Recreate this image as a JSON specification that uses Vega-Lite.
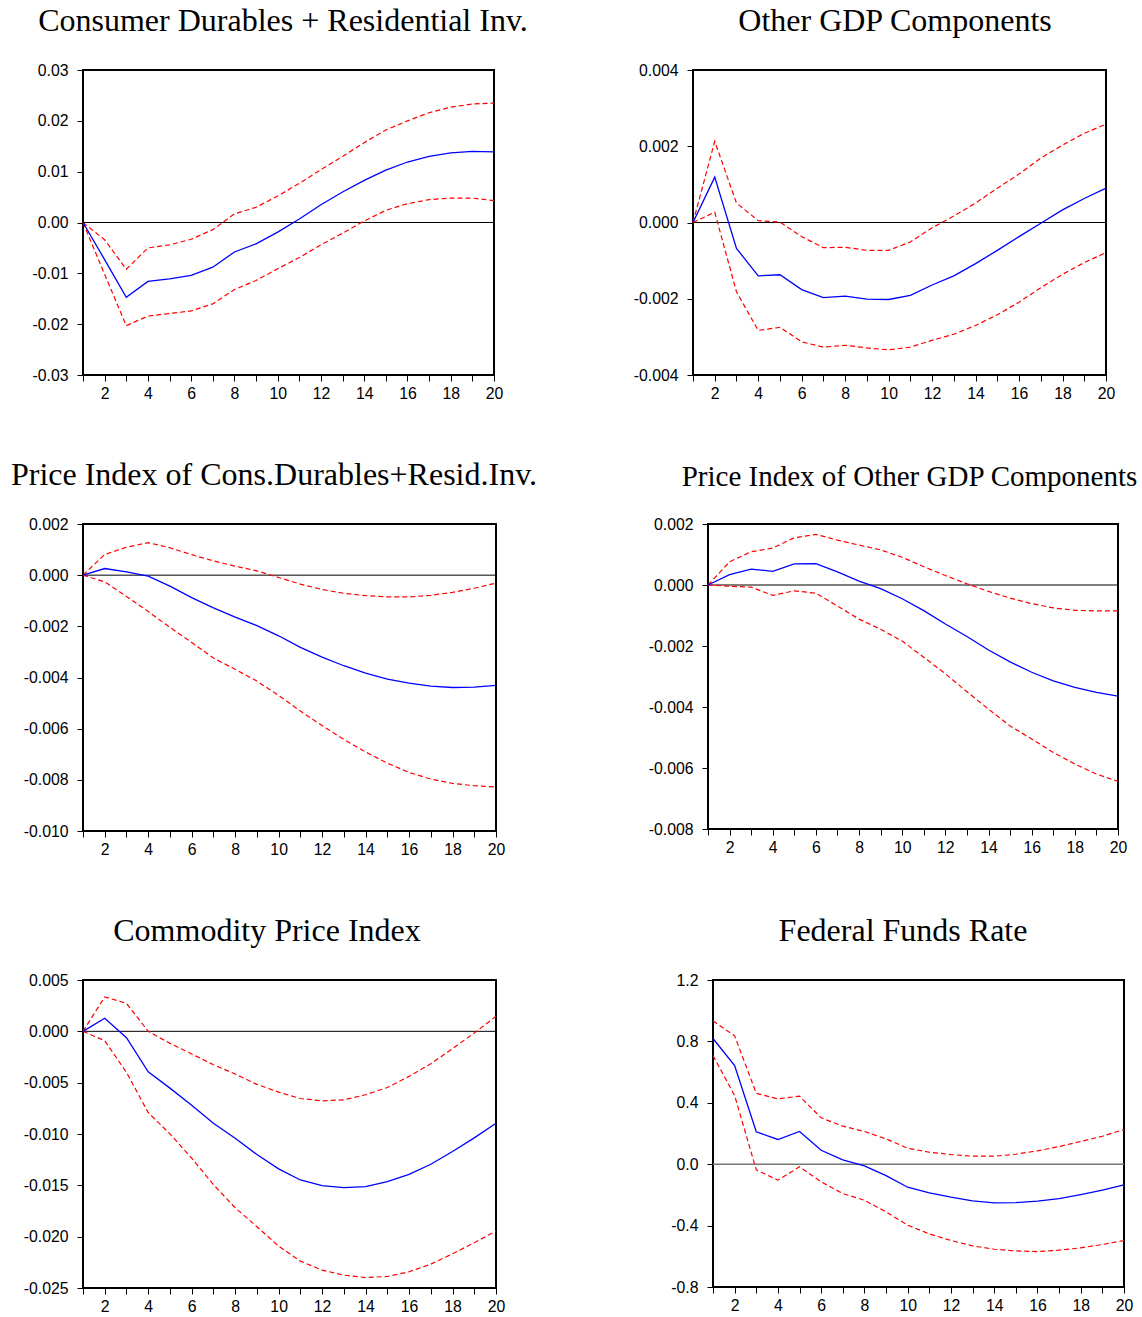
{
  "$schema": "https://vega.github.io/schema/vega-lite/v6.json",
  "padding": {"left": 9, "top": 4, "right": 0, "bottom": 0},
  "background": "white",
  "datasets": {
    "p1": [
      {"h": 1, "irf": 0, "lo": 0, "hi": 0},
      {"h": 2, "irf": -0.0073, "lo": -0.0102, "hi": -0.0034},
      {"h": 3, "irf": -0.0147, "lo": -0.0203, "hi": -0.0092},
      {"h": 4, "irf": -0.0116, "lo": -0.0184, "hi": -0.0050},
      {"h": 5, "irf": -0.0111, "lo": -0.0179, "hi": -0.0044},
      {"h": 6, "irf": -0.0104, "lo": -0.0174, "hi": -0.0033},
      {"h": 7, "irf": -0.0088, "lo": -0.0160, "hi": -0.0014},
      {"h": 8, "irf": -0.0058, "lo": -0.0132, "hi": 0.0017},
      {"h": 9, "irf": -0.0042, "lo": -0.0114, "hi": 0.0030},
      {"h": 10, "irf": -0.0019, "lo": -0.0091, "hi": 0.0052},
      {"h": 11, "irf": 0.0007, "lo": -0.0069, "hi": 0.0077},
      {"h": 12, "irf": 0.0035, "lo": -0.0044, "hi": 0.0104},
      {"h": 13, "irf": 0.0060, "lo": -0.0021, "hi": 0.0130},
      {"h": 14, "irf": 0.0083, "lo": 0.0003, "hi": 0.0157},
      {"h": 15, "irf": 0.0103, "lo": 0.0024, "hi": 0.0182},
      {"h": 16, "irf": 0.0119, "lo": 0.0037, "hi": 0.0200},
      {"h": 17, "irf": 0.0130, "lo": 0.0045, "hi": 0.0216},
      {"h": 18, "irf": 0.0137, "lo": 0.0048, "hi": 0.0227},
      {"h": 19, "irf": 0.0140, "lo": 0.0048, "hi": 0.0233},
      {"h": 20, "irf": 0.0139, "lo": 0.0043, "hi": 0.0235}
    ],
    "p2": [
      {"h": 1, "irf": 0, "lo": 0, "hi": 0},
      {"h": 2, "irf": 0.00119, "lo": 0.00027, "hi": 0.00213},
      {"h": 3, "irf": -0.00068, "lo": -0.00182, "hi": 0.00051},
      {"h": 4, "irf": -0.00140, "lo": -0.00283, "hi": 0.00005},
      {"h": 5, "irf": -0.00137, "lo": -0.00275, "hi": 0.00001},
      {"h": 6, "irf": -0.00176, "lo": -0.00313, "hi": -0.00037},
      {"h": 7, "irf": -0.00197, "lo": -0.00327, "hi": -0.00066},
      {"h": 8, "irf": -0.00193, "lo": -0.00322, "hi": -0.00065},
      {"h": 9, "irf": -0.00201, "lo": -0.00329, "hi": -0.00073},
      {"h": 10, "irf": -0.00202, "lo": -0.00334, "hi": -0.00073},
      {"h": 11, "irf": -0.00191, "lo": -0.00327, "hi": -0.00051},
      {"h": 12, "irf": -0.00164, "lo": -0.00309, "hi": -0.00014},
      {"h": 13, "irf": -0.00140, "lo": -0.00293, "hi": 0.00017},
      {"h": 14, "irf": -0.00108, "lo": -0.00270, "hi": 0.00051},
      {"h": 15, "irf": -0.00073, "lo": -0.00242, "hi": 0.00090},
      {"h": 16, "irf": -0.00037, "lo": -0.00209, "hi": 0.00127},
      {"h": 17, "irf": -0.00002, "lo": -0.00171, "hi": 0.00169},
      {"h": 18, "irf": 0.00033, "lo": -0.00136, "hi": 0.00203},
      {"h": 19, "irf": 0.00063, "lo": -0.00105, "hi": 0.00234},
      {"h": 20, "irf": 0.00090, "lo": -0.00079, "hi": 0.00258}
    ],
    "p3": [
      {"h": 1, "irf": 0, "lo": 0, "hi": 0},
      {"h": 2, "irf": 0.00026, "lo": -0.00026, "hi": 0.00081},
      {"h": 3, "irf": 0.00013, "lo": -0.00083, "hi": 0.00109},
      {"h": 4, "irf": -0.00004, "lo": -0.00142, "hi": 0.00127},
      {"h": 5, "irf": -0.00043, "lo": -0.00204, "hi": 0.00107},
      {"h": 6, "irf": -0.00088, "lo": -0.00263, "hi": 0.00080},
      {"h": 7, "irf": -0.00128, "lo": -0.00324, "hi": 0.00056},
      {"h": 8, "irf": -0.00164, "lo": -0.00368, "hi": 0.00035},
      {"h": 9, "irf": -0.00197, "lo": -0.00414, "hi": 0.00017},
      {"h": 10, "irf": -0.00237, "lo": -0.00470, "hi": -0.00009},
      {"h": 11, "irf": -0.00282, "lo": -0.00531, "hi": -0.00035},
      {"h": 12, "irf": -0.00320, "lo": -0.00588, "hi": -0.00056},
      {"h": 13, "irf": -0.00354, "lo": -0.00642, "hi": -0.00071},
      {"h": 14, "irf": -0.00383, "lo": -0.00691, "hi": -0.00080},
      {"h": 15, "irf": -0.00406, "lo": -0.00735, "hi": -0.00085},
      {"h": 16, "irf": -0.00422, "lo": -0.00771, "hi": -0.00085},
      {"h": 17, "irf": -0.00434, "lo": -0.00797, "hi": -0.00079},
      {"h": 18, "irf": -0.00439, "lo": -0.00814, "hi": -0.00067},
      {"h": 19, "irf": -0.00438, "lo": -0.00823, "hi": -0.00051},
      {"h": 20, "irf": -0.00431, "lo": -0.00828, "hi": -0.00031}
    ],
    "p4": [
      {"h": 1, "irf": 0, "lo": 0, "hi": 0},
      {"h": 2, "irf": 0.00034, "lo": -0.00004, "hi": 0.00076},
      {"h": 3, "irf": 0.00052, "lo": -0.00007, "hi": 0.00109},
      {"h": 4, "irf": 0.00045, "lo": -0.00034, "hi": 0.00121},
      {"h": 5, "irf": 0.00069, "lo": -0.00019, "hi": 0.00155},
      {"h": 6, "irf": 0.00070, "lo": -0.00027, "hi": 0.00166},
      {"h": 7, "irf": 0.00043, "lo": -0.00069, "hi": 0.00147},
      {"h": 8, "irf": 0.00013, "lo": -0.00112, "hi": 0.00131},
      {"h": 9, "irf": -0.00012, "lo": -0.00145, "hi": 0.00115},
      {"h": 10, "irf": -0.00045, "lo": -0.00184, "hi": 0.00091},
      {"h": 11, "irf": -0.00084, "lo": -0.00237, "hi": 0.00060},
      {"h": 12, "irf": -0.00128, "lo": -0.00291, "hi": 0.00031},
      {"h": 13, "irf": -0.00169, "lo": -0.00350, "hi": 0.00004},
      {"h": 14, "irf": -0.00213, "lo": -0.00407, "hi": -0.00021},
      {"h": 15, "irf": -0.00252, "lo": -0.00462, "hi": -0.00043},
      {"h": 16, "irf": -0.00286, "lo": -0.00505, "hi": -0.00061},
      {"h": 17, "irf": -0.00314, "lo": -0.00549, "hi": -0.00075},
      {"h": 18, "irf": -0.00336, "lo": -0.00587, "hi": -0.00083},
      {"h": 19, "irf": -0.00352, "lo": -0.00620, "hi": -0.00085},
      {"h": 20, "irf": -0.00364, "lo": -0.00644, "hi": -0.00085}
    ],
    "p5": [
      {"h": 1, "irf": 0, "lo": 0, "hi": 0},
      {"h": 2, "irf": 0.00127, "lo": -0.00091, "hi": 0.00335},
      {"h": 3, "irf": -0.00062, "lo": -0.00400, "hi": 0.00273},
      {"h": 4, "irf": -0.00394, "lo": -0.00791, "hi": 0.00000},
      {"h": 5, "irf": -0.00553, "lo": -0.00999, "hi": -0.00117},
      {"h": 6, "irf": -0.00719, "lo": -0.01236, "hi": -0.00221},
      {"h": 7, "irf": -0.00895, "lo": -0.01493, "hi": -0.00325},
      {"h": 8, "irf": -0.01041, "lo": -0.01718, "hi": -0.00416},
      {"h": 9, "irf": -0.01200, "lo": -0.01903, "hi": -0.00517},
      {"h": 10, "irf": -0.01340, "lo": -0.02092, "hi": -0.00592},
      {"h": 11, "irf": -0.01448, "lo": -0.02238, "hi": -0.00654},
      {"h": 12, "irf": -0.01503, "lo": -0.02326, "hi": -0.00677},
      {"h": 13, "irf": -0.01523, "lo": -0.02375, "hi": -0.00667},
      {"h": 14, "irf": -0.01513, "lo": -0.02398, "hi": -0.00618},
      {"h": 15, "irf": -0.01464, "lo": -0.02388, "hi": -0.00547},
      {"h": 16, "irf": -0.01393, "lo": -0.02342, "hi": -0.00439},
      {"h": 17, "irf": -0.01295, "lo": -0.02268, "hi": -0.00316},
      {"h": 18, "irf": -0.01171, "lo": -0.02167, "hi": -0.00169},
      {"h": 19, "irf": -0.01038, "lo": -0.02059, "hi": -0.00016},
      {"h": 20, "irf": -0.00895, "lo": -0.01945, "hi": 0.00146}
    ],
    "p6": [
      {"h": 1, "irf": 0.819, "lo": 0.708, "hi": 0.934},
      {"h": 2, "irf": 0.643, "lo": 0.447, "hi": 0.836},
      {"h": 3, "irf": 0.211, "lo": -0.037, "hi": 0.462},
      {"h": 4, "irf": 0.161, "lo": -0.104, "hi": 0.426},
      {"h": 5, "irf": 0.213, "lo": -0.017, "hi": 0.443},
      {"h": 6, "irf": 0.091, "lo": -0.115, "hi": 0.302},
      {"h": 7, "irf": 0.028, "lo": -0.191, "hi": 0.248},
      {"h": 8, "irf": -0.011, "lo": -0.235, "hi": 0.213},
      {"h": 9, "irf": -0.074, "lo": -0.311, "hi": 0.165},
      {"h": 10, "irf": -0.150, "lo": -0.397, "hi": 0.104},
      {"h": 11, "irf": -0.187, "lo": -0.454, "hi": 0.078},
      {"h": 12, "irf": -0.215, "lo": -0.497, "hi": 0.063},
      {"h": 13, "irf": -0.239, "lo": -0.532, "hi": 0.052},
      {"h": 14, "irf": -0.252, "lo": -0.554, "hi": 0.052},
      {"h": 15, "irf": -0.250, "lo": -0.565, "hi": 0.065},
      {"h": 16, "irf": -0.241, "lo": -0.569, "hi": 0.087},
      {"h": 17, "irf": -0.224, "lo": -0.560, "hi": 0.115},
      {"h": 18, "irf": -0.198, "lo": -0.545, "hi": 0.148},
      {"h": 19, "irf": -0.169, "lo": -0.523, "hi": 0.182},
      {"h": 20, "irf": -0.135, "lo": -0.497, "hi": 0.226}
    ]
  },
  "spacing": 56,
  "vconcat": [
    {
      "spacing": 199,
      "bounds": "flush",
      "hconcat": [
        {
          "width": 411, "height": 305,
          "title": {"text": "Consumer Durables + Residential Inv.", "dx": -5.5},
          "data": {"name": "p1"},
          "encoding": {"x": {"field": "h", "type": "quantitative", "scale": {"domain": [1, 20], "nice": false, "zero": false}, "axis": {"title": null, "values": [1,2,3,4,5,6,7,8,9,10,11,12,13,14,15,16,17,18,19,20], "format": "d", "labelExpr": "datum.value % 2 == 0 ? datum.label : ''"}}},
          "layer": [
            {"data": {"values": [{"zero": 0}]}, "mark": {"type": "rule", "color": "#000000", "strokeWidth": 1},
             "encoding": {"x": null, "y": {"field": "zero", "type": "quantitative", "scale": {"domain": [-0.03, 0.03], "nice": false, "zero": false}, "axis": {"title": null, "values": [-0.03, -0.02, -0.01, 0, 0.01, 0.02, 0.03], "format": ".2f"}}}},
            {"mark": {"type": "line", "color": "#FF0000", "strokeWidth": 1.2, "strokeDash": [5, 3]}, "encoding": {"y": {"field": "hi", "type": "quantitative"}}},
            {"mark": {"type": "line", "color": "#FF0000", "strokeWidth": 1.2, "strokeDash": [5, 3]}, "encoding": {"y": {"field": "lo", "type": "quantitative"}}},
            {"mark": {"type": "line", "color": "#0000FF", "strokeWidth": 1.3}, "encoding": {"y": {"field": "irf", "type": "quantitative"}}}
          ]
        },
        {
          "width": 413, "height": 305,
          "title": {"text": "Other GDP Components", "dx": -4.5},
          "data": {"name": "p2"},
          "encoding": {"x": {"field": "h", "type": "quantitative", "scale": {"domain": [1, 20], "nice": false, "zero": false}, "axis": {"title": null, "values": [1,2,3,4,5,6,7,8,9,10,11,12,13,14,15,16,17,18,19,20], "format": "d", "labelExpr": "datum.value % 2 == 0 ? datum.label : ''"}}},
          "layer": [
            {"data": {"values": [{"zero": 0}]}, "mark": {"type": "rule", "color": "#000000", "strokeWidth": 1},
             "encoding": {"x": null, "y": {"field": "zero", "type": "quantitative", "scale": {"domain": [-0.004, 0.004], "nice": false, "zero": false}, "axis": {"title": null, "values": [-0.004, -0.002, 0, 0.002, 0.004], "format": ".3f"}}}},
            {"mark": {"type": "line", "color": "#FF0000", "strokeWidth": 1.2, "strokeDash": [5, 3]}, "encoding": {"y": {"field": "hi", "type": "quantitative"}}},
            {"mark": {"type": "line", "color": "#FF0000", "strokeWidth": 1.2, "strokeDash": [5, 3]}, "encoding": {"y": {"field": "lo", "type": "quantitative"}}},
            {"mark": {"type": "line", "color": "#0000FF", "strokeWidth": 1.3}, "encoding": {"y": {"field": "irf", "type": "quantitative"}}}
          ]
        }
      ]
    },
    {
      "spacing": 212,
      "bounds": "flush",
      "hconcat": [
        {
          "width": 413, "height": 307,
          "title": {"text": "Price Index of Cons.Durables+Resid.Inv.", "dx": -15.5},
          "data": {"name": "p3"},
          "encoding": {"x": {"field": "h", "type": "quantitative", "scale": {"domain": [1, 20], "nice": false, "zero": false}, "axis": {"title": null, "values": [1,2,3,4,5,6,7,8,9,10,11,12,13,14,15,16,17,18,19,20], "format": "d", "labelExpr": "datum.value % 2 == 0 ? datum.label : ''"}}},
          "layer": [
            {"data": {"values": [{"zero": 0}]}, "mark": {"type": "rule", "color": "#000000", "strokeWidth": 1},
             "encoding": {"x": null, "y": {"field": "zero", "type": "quantitative", "scale": {"domain": [-0.010, 0.002], "nice": false, "zero": false}, "axis": {"title": null, "values": [-0.010, -0.008, -0.006, -0.004, -0.002, 0, 0.002], "format": ".3f"}}}},
            {"mark": {"type": "line", "color": "#FF0000", "strokeWidth": 1.2, "strokeDash": [5, 3]}, "encoding": {"y": {"field": "hi", "type": "quantitative"}}},
            {"mark": {"type": "line", "color": "#FF0000", "strokeWidth": 1.2, "strokeDash": [5, 3]}, "encoding": {"y": {"field": "lo", "type": "quantitative"}}},
            {"mark": {"type": "line", "color": "#0000FF", "strokeWidth": 1.3}, "encoding": {"y": {"field": "irf", "type": "quantitative"}}}
          ]
        },
        {
          "width": 410, "height": 305,
          "title": {"text": "Price Index of Other GDP Components", "dx": -3.5, "fontSize": 29},
          "data": {"name": "p4"},
          "encoding": {"x": {"field": "h", "type": "quantitative", "scale": {"domain": [1, 20], "nice": false, "zero": false}, "axis": {"title": null, "values": [1,2,3,4,5,6,7,8,9,10,11,12,13,14,15,16,17,18,19,20], "format": "d", "labelExpr": "datum.value % 2 == 0 ? datum.label : ''"}}},
          "layer": [
            {"data": {"values": [{"zero": 0}]}, "mark": {"type": "rule", "color": "#000000", "strokeWidth": 1},
             "encoding": {"x": null, "y": {"field": "zero", "type": "quantitative", "scale": {"domain": [-0.008, 0.002], "nice": false, "zero": false}, "axis": {"title": null, "values": [-0.008, -0.006, -0.004, -0.002, 0, 0.002], "format": ".3f"}}}},
            {"mark": {"type": "line", "color": "#FF0000", "strokeWidth": 1.2, "strokeDash": [5, 3]}, "encoding": {"y": {"field": "hi", "type": "quantitative"}}},
            {"mark": {"type": "line", "color": "#FF0000", "strokeWidth": 1.2, "strokeDash": [5, 3]}, "encoding": {"y": {"field": "lo", "type": "quantitative"}}},
            {"mark": {"type": "line", "color": "#0000FF", "strokeWidth": 1.3}, "encoding": {"y": {"field": "irf", "type": "quantitative"}}}
          ]
        }
      ]
    },
    {
      "spacing": 217,
      "bounds": "flush",
      "hconcat": [
        {
          "width": 413, "height": 308,
          "title": {"text": "Commodity Price Index", "dx": -22.5},
          "data": {"name": "p5"},
          "encoding": {"x": {"field": "h", "type": "quantitative", "scale": {"domain": [1, 20], "nice": false, "zero": false}, "axis": {"title": null, "values": [1,2,3,4,5,6,7,8,9,10,11,12,13,14,15,16,17,18,19,20], "format": "d", "labelExpr": "datum.value % 2 == 0 ? datum.label : ''"}}},
          "layer": [
            {"data": {"values": [{"zero": 0}]}, "mark": {"type": "rule", "color": "#000000", "strokeWidth": 1},
             "encoding": {"x": null, "y": {"field": "zero", "type": "quantitative", "scale": {"domain": [-0.025, 0.005], "nice": false, "zero": false}, "axis": {"title": null, "values": [-0.025, -0.020, -0.015, -0.010, -0.005, 0, 0.005], "format": ".3f"}}}},
            {"mark": {"type": "line", "color": "#FF0000", "strokeWidth": 1.2, "strokeDash": [5, 3]}, "encoding": {"y": {"field": "hi", "type": "quantitative"}}},
            {"mark": {"type": "line", "color": "#FF0000", "strokeWidth": 1.2, "strokeDash": [5, 3]}, "encoding": {"y": {"field": "lo", "type": "quantitative"}}},
            {"mark": {"type": "line", "color": "#0000FF", "strokeWidth": 1.3}, "encoding": {"y": {"field": "irf", "type": "quantitative"}}}
          ]
        },
        {
          "width": 411, "height": 307,
          "title": {"text": "Federal Funds Rate", "dx": -15.5},
          "data": {"name": "p6"},
          "encoding": {"x": {"field": "h", "type": "quantitative", "scale": {"domain": [1, 20], "nice": false, "zero": false}, "axis": {"title": null, "values": [1,2,3,4,5,6,7,8,9,10,11,12,13,14,15,16,17,18,19,20], "format": "d", "labelExpr": "datum.value % 2 == 0 ? datum.label : ''"}}},
          "layer": [
            {"data": {"values": [{"zero": 0}]}, "mark": {"type": "rule", "color": "#777777", "strokeWidth": 1.5},
             "encoding": {"x": null, "y": {"field": "zero", "type": "quantitative", "scale": {"domain": [-0.8, 1.2], "nice": false, "zero": false}, "axis": {"title": null, "values": [-0.8, -0.4, 0, 0.4, 0.8, 1.2], "format": ".1f"}}}},
            {"mark": {"type": "line", "color": "#FF0000", "strokeWidth": 1.2, "strokeDash": [5, 3]}, "encoding": {"y": {"field": "hi", "type": "quantitative"}}},
            {"mark": {"type": "line", "color": "#FF0000", "strokeWidth": 1.2, "strokeDash": [5, 3]}, "encoding": {"y": {"field": "lo", "type": "quantitative"}}},
            {"mark": {"type": "line", "color": "#0000FF", "strokeWidth": 1.3}, "encoding": {"y": {"field": "irf", "type": "quantitative"}}}
          ]
        }
      ]
    }
  ],
  "config": {
    "locale": {"number": {"decimal": ".", "thousands": ",", "grouping": [3], "currency": ["$", ""], "minus": "-"}},
    "view": {"stroke": "#000000", "strokeWidth": 2},
    "axis": {"domain": false, "grid": false, "ticks": true, "tickColor": "#000000", "tickSize": 6, "tickWidth": 1, "labelFont": "Liberation Sans", "labelFontSize": 15.8, "labelColor": "#000000", "labelFlush": false, "labelOverlap": false, "labelPadding": 5},
    "axisY": {"labelPadding": 9},
    "title": {"font": "Liberation Serif", "fontSize": 32, "fontWeight": "normal", "color": "#000000", "anchor": "middle", "frame": "group", "baseline": "alphabetic", "offset": 24}
  }
}
